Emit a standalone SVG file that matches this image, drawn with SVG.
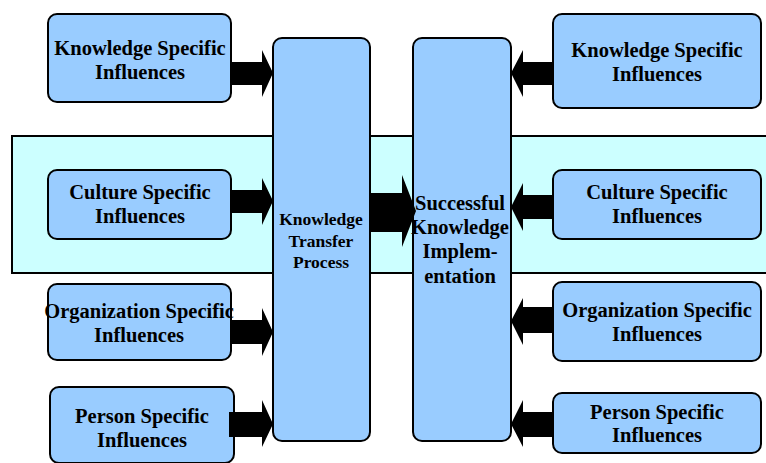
<svg xmlns="http://www.w3.org/2000/svg" width="766" height="463" viewBox="0 0 766 463">
<style>
.box{fill:#99CCFF;stroke:#000;stroke-width:2}
.t{font-family:'Liberation Serif','Times New Roman',serif;font-weight:bold;font-size:20.5px;fill:#000;text-anchor:middle}
.ts{font-size:17.5px}
.arr{fill:#000}
</style>
<rect x="12" y="136" width="760" height="137" fill="#CCFFFF" stroke="#000" stroke-width="2"/>
<g id="ktp"><rect class="box" x="273" y="38" width="97" height="403" rx="9"/>
<text class="t ts" x="321" y="225">Knowledge</text><text class="t ts" x="321" y="247">Transfer</text><text class="t ts" x="321" y="268">Process</text></g>
<g id="ski"><rect class="box" x="413" y="38" width="98" height="403" rx="9"/>
<text class="t" x="460" y="210">Successful</text><text class="t" x="460" y="234">Knowledge</text><text class="t" x="460" y="258">Implem-</text><text class="t" x="460" y="283">entation</text></g>
<g id="l-know"><rect class="box" x="48" y="14" width="183" height="88" rx="9"/><text class="t" x="140" y="55">Knowledge Specific</text><text class="t" x="140" y="79">Influences</text></g>
<g id="l-cult"><rect class="box" x="48" y="170" width="183" height="69" rx="9"/><text class="t" x="140" y="199">Culture Specific</text><text class="t" x="140" y="223">Influences</text></g>
<g id="l-org"><rect class="box" x="48" y="284" width="183" height="76" rx="9"/><text class="t" x="139" y="318">Organization Specific</text><text class="t" x="139" y="342">Influences</text></g>
<g id="l-pers"><rect class="box" x="50" y="387" width="184" height="76" rx="9"/><text class="t" x="142" y="423">Person Specific</text><text class="t" x="142" y="447">Influences</text></g>
<g id="r-know"><rect class="box" x="553" y="14" width="208" height="94" rx="9"/><text class="t" x="657" y="57">Knowledge Specific</text><text class="t" x="657" y="81">Influences</text></g>
<g id="r-cult"><rect class="box" x="553" y="170" width="208" height="69" rx="9"/><text class="t" x="657" y="199">Culture Specific</text><text class="t" x="657" y="223">Influences</text></g>
<g id="r-org"><rect class="box" x="553" y="282" width="208" height="79" rx="9"/><text class="t" x="657" y="317">Organization Specific</text><text class="t" x="657" y="341">Influences</text></g>
<g id="r-pers"><rect class="box" x="553" y="393" width="208" height="60" rx="9"/><text class="t" x="657" y="419">Person Specific</text><text class="t" x="657" y="442">Influences</text></g>
<g id="connectors">
<polygon class="arr" points="231,62 262,62 262,50 273,73 262,97 262,85 231,85"/>
<polygon class="arr" points="231,190 262,190 262,178 273,201 262,225 262,213 231,213"/>
<polygon class="arr" points="231,320 262,320 262,308 273,332 262,356 262,344 231,344"/>
<polygon class="arr" points="229,412 262,412 262,400 273,424 262,447 262,437 229,437"/>
<polygon class="arr" points="370,193 402,193 402,175 416,211 402,247 402,232 370,232"/>
<polygon class="arr" points="553,62 523,62 523,50 511,73 523,97 523,85 553,85"/>
<polygon class="arr" points="553,195 523,195 523,183 511,207 523,231 523,219 553,219"/>
<polygon class="arr" points="553,307 523,307 523,298 511,321 523,345 523,333 553,333"/>
<polygon class="arr" points="553,412 523,412 523,400 511,424 523,447 523,437 553,437"/>
</g>
</svg>
